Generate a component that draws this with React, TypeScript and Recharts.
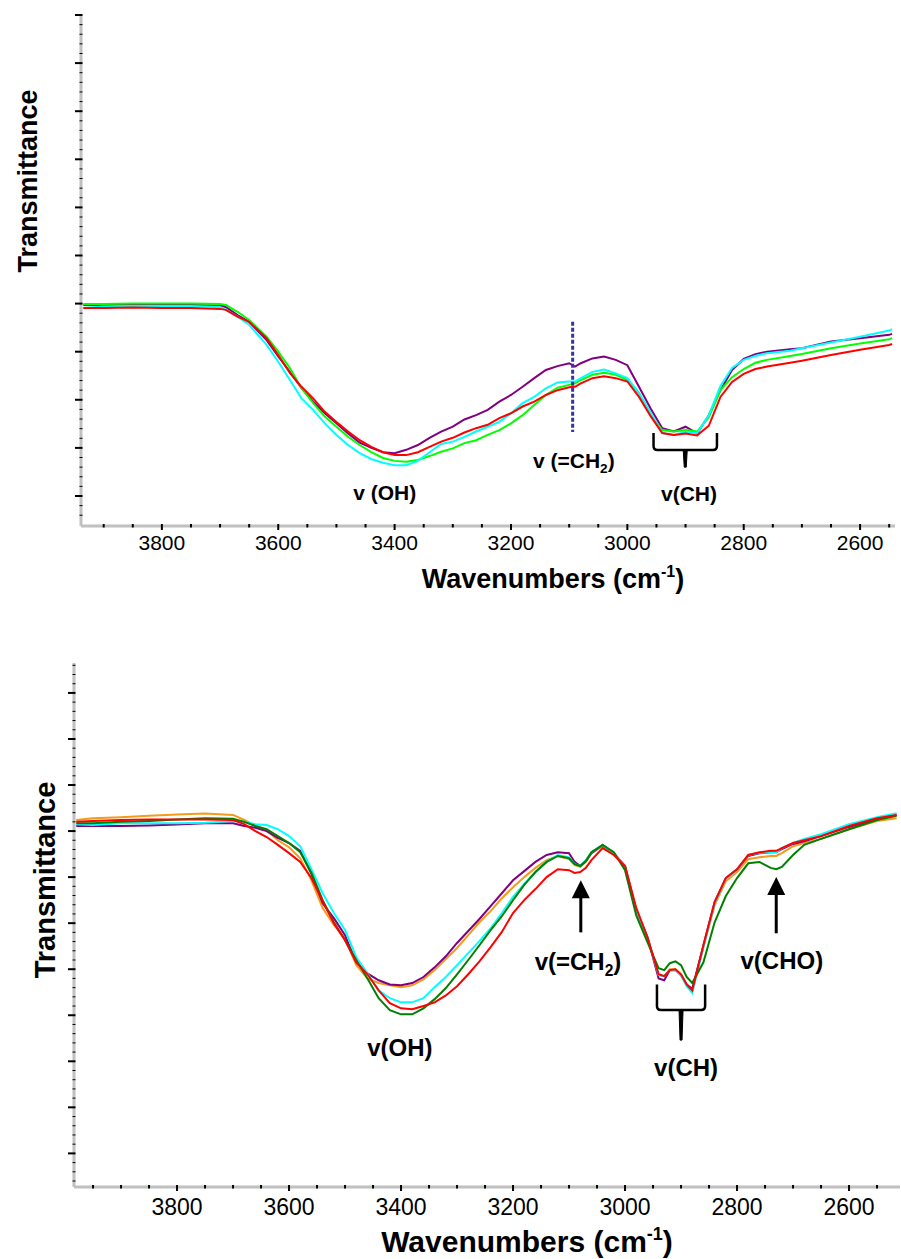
import React from 'react'
import {
  LineChart,
  Line,
  XAxis,
  YAxis,
  ReferenceLine,
  ReferenceArea,
  ReferenceDot,
} from 'recharts'

const FONT = '"Liberation Sans", Arial, Helvetica, sans-serif'

// ---- upper spectrum (4 samples) ----
const topWavenumbers = [
  3935, 3900, 3850, 3800, 3750, 3700, 3690, 3670, 3650, 3620, 3600, 3580, 3560, 3540, 3520,
  3500, 3480, 3460, 3440, 3420, 3400, 3380, 3360, 3340, 3320, 3300, 3280, 3260, 3240, 3220,
  3200, 3180, 3160, 3140, 3120, 3100, 3090, 3080, 3060, 3040, 3020, 3000, 2980, 2960, 2940,
  2920, 2900, 2880, 2860, 2840, 2820, 2800, 2780, 2760, 2720, 2700, 2650, 2600, 2550, 2545,
]
const topPurple = [
  49.7, 49.7, 49.8, 49.7, 49.7, 49.6, 49.3, 47.6, 46.2, 42.4, 39.0, 35.8, 32.4, 29.6, 27.2,
  25.1, 23.0, 21.1, 20.0, 19.1, 18.9, 19.6, 20.6, 22.1, 23.4, 24.4, 25.9, 26.8, 27.9, 29.6,
  31.0, 32.7, 34.5, 36.2, 37.0, 37.6, 36.9, 37.6, 38.6, 39.0, 38.3, 37.2, 32.7, 28.2, 24.1,
  23.4, 24.4, 23.0, 26.8, 32.0, 36.2, 38.5, 39.5, 40.0, 40.5, 40.7, 42.1, 42.8, 43.5, 43.7,
]
const topCyan = [
  49.1, 49.4, 49.5, 49.5, 49.5, 49.3, 48.7, 47.3, 45.6, 41.4, 37.9, 34.1, 30.3, 27.9, 25.1,
  22.7, 20.6, 18.9, 17.7, 16.9, 16.4, 16.4, 17.3, 19.1, 20.8, 21.3, 22.3, 23.4, 24.4, 25.4,
  27.2, 29.3, 30.6, 32.4, 33.6, 33.8, 33.8, 34.5, 35.8, 36.3, 35.5, 34.5, 31.4, 27.3, 23.1,
  22.7, 23.3, 23.1, 26.8, 32.9, 36.6, 38.3, 39.1, 39.7, 40.2, 40.7, 41.9, 43.1, 44.4, 44.7,
]
const topGreen = [
  49.9, 49.9, 50.0, 50.0, 50.0, 49.9, 49.7, 48.3, 46.6, 43.1, 40.0, 36.6, 32.4, 29.3, 26.5,
  24.4, 22.3, 20.6, 19.1, 17.9, 17.3, 17.1, 17.5, 18.3, 19.2, 19.9, 21.0, 21.6, 22.7, 23.7,
  25.1, 26.8, 28.9, 31.0, 32.5, 33.1, 33.4, 34.1, 35.2, 35.6, 35.2, 34.1, 31.4, 26.8, 23.7,
  23.4, 23.7, 23.4, 26.4, 32.0, 34.7, 36.4, 37.7, 38.3, 39.1, 39.5, 40.7, 41.7, 42.6, 42.8,
]
const topRed = [
  49.1, 49.1, 49.2, 49.1, 49.1, 48.9, 48.7, 47.3, 46.2, 42.8, 39.3, 35.6, 32.7, 30.3, 27.5,
  25.4, 23.4, 21.6, 20.2, 19.1, 18.5, 18.5, 19.1, 20.2, 21.3, 22.1, 23.2, 24.1, 24.8, 26.2,
  27.2, 28.6, 29.6, 31.0, 32.0, 32.6, 32.7, 33.4, 34.5, 34.9, 34.5, 33.8, 30.6, 26.6, 23.1,
  22.7, 23.0, 22.6, 24.6, 30.6, 33.7, 35.4, 36.4, 36.9, 37.7, 38.1, 39.3, 40.4, 41.4, 41.6,
]
const topXTicks = [
  2550, 2600, 2650, 2700, 2750, 2800, 2850, 2900, 2950, 3000, 3050, 3100, 3150, 3200,
  3250, 3300, 3350, 3400, 3450, 3500, 3550, 3600, 3650, 3700, 3750, 3800, 3850, 3900,
]

// ---- lower spectrum (5 samples) ----
const bottomWavenumbers = [
  3980, 3950, 3900, 3850, 3800, 3750, 3700, 3680, 3660, 3640, 3620, 3600, 3580, 3560, 3540,
  3520, 3500, 3480, 3460, 3440, 3420, 3400, 3380, 3360, 3340, 3320, 3300, 3280, 3260, 3240,
  3220, 3200, 3180, 3160, 3140, 3120, 3100, 3090, 3080, 3070, 3060, 3040, 3020, 3000, 2980,
  2960, 2940, 2930, 2920, 2910, 2900, 2890, 2880, 2860, 2840, 2820, 2800, 2780, 2760, 2740,
  2730, 2720, 2700, 2680, 2650, 2600, 2550, 2515,
]
const bottomPurple = [
  81.1, 81.1, 81.1, 81.2, 81.4, 81.7, 81.7, 81.1, 80.7, 80.0, 78.5, 77.4, 75.7, 70.7, 64.3,
  61.1, 57.4, 51.5, 49.1, 47.6, 46.7, 46.5, 47.0, 48.3, 50.4, 52.8, 55.7, 58.3, 60.9, 63.7,
  66.5, 69.3, 71.3, 73.3, 74.8, 75.4, 75.2, 73.3, 72.4, 73.5, 75.2, 77.0, 75.2, 72.4, 62.8,
  57.0, 48.0, 47.6, 49.8, 49.8, 48.7, 46.7, 45.7, 55.2, 64.6, 69.8, 71.7, 74.6, 75.2, 75.4,
  75.4, 76.1, 77.2, 77.8, 78.9, 80.9, 82.6, 83.5,
]
const bottomOrange = [
  82.4, 82.8, 83.0, 83.3, 83.6, 83.8, 83.5, 82.4, 81.1, 80.2, 78.0, 76.5, 74.1, 69.3, 63.3,
  59.6, 56.7, 50.9, 48.0, 47.0, 46.5, 46.1, 46.5, 47.8, 49.8, 52.2, 54.6, 57.4, 60.2, 62.6,
  65.4, 67.8, 70.0, 72.0, 73.7, 74.6, 73.9, 72.6, 72.2, 73.3, 75.2, 76.7, 75.0, 72.2, 62.8,
  56.7, 48.7, 48.5, 50.0, 50.0, 48.9, 46.7, 45.7, 54.8, 63.9, 69.1, 71.1, 73.9, 74.3, 74.6,
  74.6, 75.2, 76.7, 77.4, 78.3, 80.4, 82.2, 82.8,
]
const bottomCyan = [
  81.5, 81.3, 81.7, 81.7, 81.7, 81.8, 82.2, 82.0, 81.5, 81.3, 80.4, 78.9, 76.7, 71.7, 66.5,
  62.2, 58.5, 52.6, 49.1, 45.4, 43.7, 42.8, 42.8, 43.7, 46.1, 48.3, 50.9, 53.5, 56.1, 58.9,
  62.2, 65.7, 68.5, 71.1, 73.3, 74.8, 74.3, 72.8, 72.4, 73.7, 75.4, 77.0, 75.2, 72.4, 62.8,
  57.0, 48.7, 48.5, 49.8, 49.8, 48.7, 46.3, 44.8, 54.8, 64.3, 69.6, 71.7, 74.8, 75.3, 75.4,
  75.4, 76.3, 77.4, 78.3, 79.3, 81.5, 83.0, 83.9,
]
const bottomGreen = [
  81.7, 81.7, 82.0, 82.2, 82.5, 82.8, 82.7, 82.0, 81.1, 80.4, 78.9, 77.4, 75.4, 70.9, 65.0,
  60.2, 56.3, 52.0, 48.0, 43.7, 41.1, 40.2, 40.2, 41.5, 43.5, 45.9, 48.9, 52.0, 55.2, 58.5,
  61.5, 65.0, 68.3, 71.1, 73.3, 74.6, 74.1, 72.8, 72.4, 73.5, 75.4, 77.0, 75.4, 71.5, 61.7,
  55.9, 50.2, 49.8, 51.3, 51.7, 50.9, 48.3, 47.0, 51.5, 60.2, 65.9, 69.8, 73.0, 73.3, 72.0,
  71.7, 72.2, 74.8, 77.0, 78.3, 80.4, 82.4, 83.3,
]
const bottomRed = [
  82.0, 82.2, 82.4, 82.5, 82.5, 82.5, 82.4, 81.5, 80.0, 78.7, 77.0, 75.2, 73.3, 69.8, 64.8,
  60.0, 56.3, 51.5, 48.9, 45.4, 42.6, 41.5, 41.3, 42.0, 42.8, 44.3, 46.3, 48.9, 51.7, 54.8,
  58.1, 62.2, 65.0, 67.4, 70.0, 71.7, 71.5, 70.9, 71.1, 72.0, 73.7, 76.3, 74.8, 72.4, 63.3,
  57.0, 48.9, 48.5, 49.8, 50.0, 48.9, 46.7, 45.4, 55.2, 64.6, 69.8, 71.7, 74.8, 75.4, 75.7,
  75.7, 76.3, 77.4, 78.0, 78.9, 81.1, 82.8, 83.5,
]
const bottomXTicks = [
  2550, 2600, 2650, 2700, 2750, 2800, 2850, 2900, 2950, 3000, 3050, 3100, 3150, 3200,
  3250, 3300, 3350, 3400, 3450, 3500, 3550, 3600, 3650, 3700, 3750, 3800, 3850, 3900, 3950,
]

// band annotations: position in (wavenumber, transmittance)
const topNotes = [
  { wn: 3417, t: 9.2, main: 'v (OH)', sub: '', tail: '' },
  { wn: 3092, t: 15.8, main: 'v (=CH', sub: '2', tail: ')' },
  { wn: 2894, t: 9.0, main: 'v(CH)', sub: '', tail: '' },
]
const bottomNotes = [
  { wn: 3402, t: 31.1, main: 'v(OH)', sub: '', tail: '' },
  { wn: 3084, t: 49.8, main: 'v(=CH', sub: '2', tail: ')' },
  { wn: 2891, t: 26.7, main: 'v(CH)', sub: '', tail: '' },
  { wn: 2720, t: 50.0, main: 'v(CHO)', sub: '', tail: '' },
]
const bottomArrows = [
  { wn: 3079, from: 58.0, to: 69.3 },
  { wn: 2730, from: 57.8, to: 70.0 },
]

function range(a: number, b: number, step: number) {
  const out: number[] = []
  for (let v = a; v <= b + 1e-9; v += step) out.push(v)
  return out
}

const topYTicks = range(6, 110, 2)
const bottomYTicks = range(4, 116, 2)

const topRows = topWavenumbers.map((wn, i) => ({
  wn,
  purple: topPurple[i],
  cyan: topCyan[i],
  green: topGreen[i],
  red: topRed[i],
}))
const bottomRows = bottomWavenumbers.map((wn, i) => ({
  wn,
  orange: bottomOrange[i],
  purple: bottomPurple[i],
  cyan: bottomCyan[i],
  green: bottomGreen[i],
  red: bottomRed[i],
}))

const topSeries = [
  { key: 'purple', color: '#800080' },
  { key: 'green', color: '#00ff00' },
  { key: 'cyan', color: '#00ffff' },
  { key: 'red', color: '#ff0000' },
]
const bottomSeries = [
  { key: 'orange', color: '#f39b1a' },
  { key: 'purple', color: '#800080' },
  { key: 'cyan', color: '#00ffff' },
  { key: 'green', color: '#008000' },
  { key: 'red', color: '#ff0000' },
]

const makeXTick = (fontSize: number, labelDy: number) => (props: any) => {
  const { x, y, payload } = props
  const major = payload.value % 200 === 0
  return (
    <g>
      <line x1={x} x2={x} y1={y - 2} y2={major ? y + 4 : y + 1.5} stroke="#000" strokeWidth={2} />
      {major ? (
        <text x={x} y={y + labelDy} textAnchor="middle" fontFamily={FONT} fontSize={fontSize} fill="#000">
          {payload.value}
        </text>
      ) : null}
    </g>
  )
}

const yTick = (props: any) => {
  const { x, y, payload } = props
  const major = Math.round(payload.value) % 10 === 0
  return (
    <line
      x1={major ? x - 6 : x - 1.5}
      x2={x + 1.5}
      y1={y}
      y2={y}
      stroke="#000"
      strokeWidth={major ? 2 : 1}
    />
  )
}

const noteShape = (n: { main: string; sub: string; tail: string }, size: number) => (p: any) => (
  <text x={p.cx} y={p.cy} textAnchor="middle" fontFamily={FONT} fontWeight="bold" fontSize={size} fill="#000">
    {n.main}
    {n.sub ? (
      <tspan fontSize={size * 0.65} dy={size * 0.25}>
        {n.sub}
      </tspan>
    ) : null}
    {n.tail ? <tspan dy={n.sub ? -size * 0.25 : 0}>{n.tail}</tspan> : null}
  </text>
)

// horizontal curly brace pointing down, drawn inside the reference area box
const braceShape = (midFrac: number) => (p: any) => {
  const { x, y, width: w, height: h } = p
  const mid = y + h * midFrac
  const cx = x + w / 2
  const r = 4
  const d = `M${x},${y} L${x},${mid - r} Q${x},${mid} ${x + r},${mid} L${x + w - r},${mid} Q${x + w},${mid} ${x + w},${mid - r} L${x + w},${y}`
  return (
    <g>
      <path d={d} fill="none" stroke="#000" strokeWidth={2.5} />
      <path d={`M${cx - 2},${mid} L${cx + 2},${mid} L${cx + 1},${y + h} L${cx - 1},${y + h} Z`} fill="#000" stroke="#000" strokeWidth={1} />
    </g>
  )
}

const arrowShape = (p: any) => {
  const { x1, y1, x2, y2 } = p
  // tip at (x2, y2), tail at (x1, y1)
  return (
    <g>
      <line x1={x1} y1={y1} x2={x2} y2={y2 + 14} stroke="#000" strokeWidth={3} />
      <path d={`M${x2},${y2} L${x2 - 9},${y2 + 18} L${x2 + 9},${y2 + 18} Z`} fill="#000" />
    </g>
  )
}

export default function App() {
  return (
    <div style={{ position: 'absolute', left: 0, top: 0, width: 901, height: 1259, background: '#fff' }}>
      <div style={{ position: 'absolute', left: 0, top: 0 }}>
        <LineChart width={901} height={600} data={topRows} margin={{ top: 15, right: 6, bottom: 0, left: 0 }}>
          <XAxis
            type="number"
            dataKey="wn"
            domain={[2540, 3939]}
            reversed
            allowDataOverflow
            ticks={topXTicks}
            interval={0}
            tickSize={0}
            tickMargin={0}
            tickLine={false}
            axisLine={{ stroke: '#c0c0c0', strokeWidth: 3 }}
            height={74}
            tick={makeXTick(21, 24)}
          />
          <YAxis
            type="number"
            domain={[3.76, 110]}
            allowDataOverflow
            ticks={topYTicks}
            interval={0}
            tickSize={0}
            tickMargin={0}
            tickLine={false}
            axisLine={{ stroke: '#c0c0c0', strokeWidth: 3 }}
            width={81}
            tick={yTick}
          />
          {topSeries.map((s) => (
            <Line
              key={s.key}
              type="linear"
              dataKey={s.key}
              stroke={s.color}
              strokeWidth={2}
              dot={false}
              isAnimationActive={false}
            />
          ))}
          <ReferenceLine
            segment={[{ x: 3094, y: 46.2 }, { x: 3094, y: 23.3 }]}
            stroke="#35359a"
            strokeWidth={3}
            strokeDasharray="4 2"
            ifOverflow="visible"
          />
          <ReferenceArea x1={2955} x2={2846} y1={16.0} y2={23.1} ifOverflow="visible" shape={braceShape(0.5)} />
          {topNotes.map((n) => (
            <ReferenceDot key={n.main} x={n.wn} y={n.t} r={0} ifOverflow="visible" shape={noteShape(n, 21)} />
          ))}
        </LineChart>
      </div>

      <div style={{ position: 'absolute', left: 0, top: 620 }}>
        <LineChart width={901} height={639} data={bottomRows} margin={{ top: 43, right: 1, bottom: 0, left: 0 }}>
          <XAxis
            type="number"
            dataKey="wn"
            domain={[2509, 3984]}
            reversed
            allowDataOverflow
            ticks={bottomXTicks}
            interval={0}
            tickSize={0}
            tickMargin={0}
            tickLine={false}
            axisLine={{ stroke: '#c0c0c0', strokeWidth: 3 }}
            height={72}
            tick={makeXTick(23, 28)}
          />
          <YAxis
            type="number"
            domain={[2.7, 116.5]}
            allowDataOverflow
            ticks={bottomYTicks}
            interval={0}
            tickSize={0}
            tickMargin={0}
            tickLine={false}
            axisLine={{ stroke: '#c0c0c0', strokeWidth: 3 }}
            width={74}
            tick={yTick}
          />
          {bottomSeries.map((s) => (
            <Line
              key={s.key}
              type="linear"
              dataKey={s.key}
              stroke={s.color}
              strokeWidth={2}
              dot={false}
              isAnimationActive={false}
            />
          ))}
          {bottomArrows.map((a) => (
            <ReferenceLine
              key={a.wn}
              segment={[{ x: a.wn, y: a.from }, { x: a.wn, y: a.to }]}
              ifOverflow="visible"
              shape={arrowShape}
            />
          ))}
          <ReferenceArea x1={2943} x2={2857} y1={34.6} y2={46.7} ifOverflow="visible" shape={braceShape(0.46)} />
          {bottomNotes.map((n) => (
            <ReferenceDot key={n.main} x={n.wn} y={n.t} r={0} ifOverflow="visible" shape={noteShape(n, 24)} />
          ))}
        </LineChart>
      </div>

      {/* axis titles */}
      <svg width={901} height={1259} style={{ position: 'absolute', left: 0, top: 0, pointerEvents: 'none' }}>
        <text x={37} y={181} transform="rotate(-90 37 181)" textAnchor="middle" fontFamily={FONT} fontWeight="bold" fontSize={27} fill="#000">
          Transmittance
        </text>
        <text x={553} y={588} textAnchor="middle" fontFamily={FONT} fontWeight="bold" fontSize={27} fill="#000">
          Wavenumbers (cm
          <tspan fontSize={16} dy={-11}>-1</tspan>
          <tspan dy={11}>)</tspan>
        </text>
        <text x={55} y={880} transform="rotate(-90 55 880)" textAnchor="middle" fontFamily={FONT} fontWeight="bold" fontSize={29} fill="#000">
          Transmittance
        </text>
        <text x={527} y={1252} textAnchor="middle" fontFamily={FONT} fontWeight="bold" fontSize={30} fill="#000">
          Wavenumbers (cm
          <tspan fontSize={18} dy={-12}>-1</tspan>
          <tspan dy={12}>)</tspan>
        </text>
      </svg>
    </div>
  )
}
